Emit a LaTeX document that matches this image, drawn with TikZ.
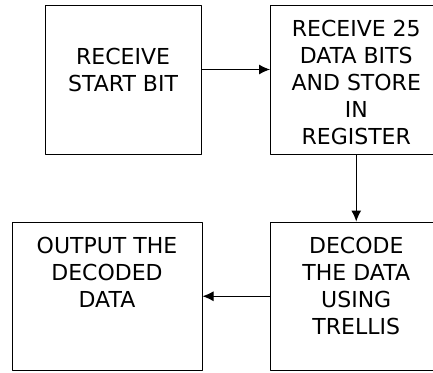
\documentclass[tikz,border=0pt]{standalone}
\usepackage{fontspec}
\setmainfont{DejaVu Sans}
\usetikzlibrary{positioning,arrows.meta}
\begin{document}
\begin{tikzpicture}[x=1pt, y=-1pt, line cap=round, line join=round, line width=1pt, font=\fontsize{22}{27}\selectfont, >={Latex[length=11pt,width=10pt]}]
	\tikzset{box style/.style={draw, inner sep=0pt, minimum height=149pt}, text style/.style={align=center, inner sep=0pt}}
	\clip (0,0) rectangle (433,372);
	\node[box style, minimum width=156pt] (start) at (123,79.5) {};
	\node[box style, minimum width=171.5pt] (store) at (356.25,79.5) {};
	\node[box style, minimum width=171.5pt, minimum height=148.5pt] (decode) at (356.25,296.25) {};
	\node[box style, minimum width=190pt, minimum height=148.5pt] (output) at (107,296.25) {};
	\node[text style, below=43pt of start.north] (starttext) {RECEIVE\\START BIT};
	\node[text style, below=15pt of store.north] (storetext) {RECEIVE 25\\DATA BITS\\AND STORE\\IN\\REGISTER};
	\node[text style, below=15pt of decode.north] (decodetext) {DECODE\\THE DATA\\USING\\TRELLIS};
	\node[text style, below=15.5pt of output.north] (outputtext) {OUTPUT THE\\DECODED\\DATA};
	\draw[->] ([yshift=10pt]start.east) -- ([yshift=10pt]store.west);
	\draw[->] (store.south) -- (decode.north);
	\draw[->] (decode.west) -- (output.east);
\end{tikzpicture}
\end{document}
